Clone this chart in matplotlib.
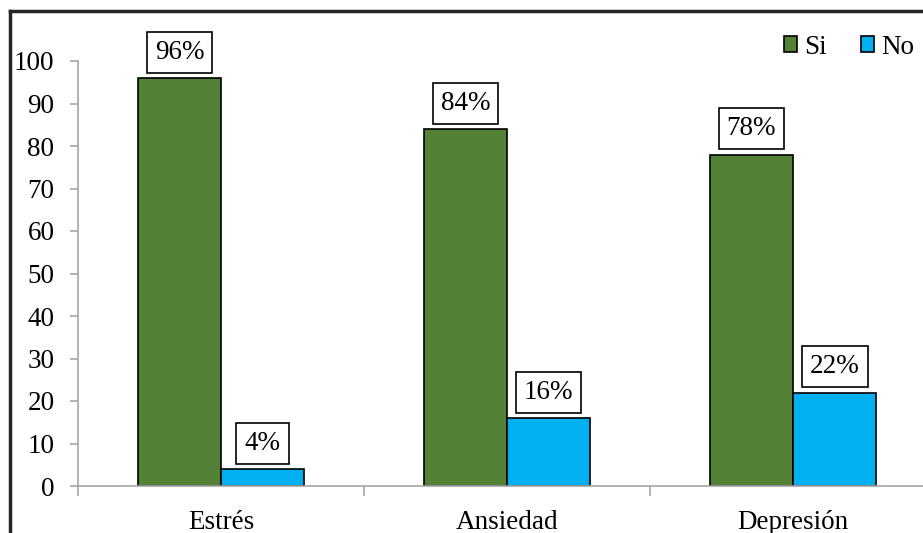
import matplotlib
matplotlib.use("Agg")
import matplotlib.pyplot as plt
from matplotlib.lines import Line2D
from matplotlib.patches import Patch
import numpy as np

categories = ["Estrés", "Ansiedad", "Depresión"]
si_values = [96, 84, 78]
no_values = [4, 16, 22]
series_names = ["Si", "No"]
yticks = list(range(0, 101, 10))

plt.rcParams["font.family"] = ["Liberation Serif", "DejaVu Serif"]
FS = 19.5

W, H = 923, 533
fig = plt.figure(figsize=(W / 100, H / 100), dpi=100)

# axes geometry in pixels: left at x=78, 286 px per category, y from 486 (0) to 61 (100)
left_px, unit_px = 78, 286
bottom_px, top_px = 486, 61
ax_w = 3 * unit_px
ax = fig.add_axes([left_px / W, (H - bottom_px) / H, ax_w / W, (bottom_px - top_px) / H])

x = np.arange(len(categories))
bw = 83 / unit_px
green = "#538135"
blue = "#00B0F0"
ax.bar(x - bw / 2, si_values, bw, color=green, edgecolor="black", linewidth=1.2)
ax.bar(x + bw / 2, no_values, bw, color=blue, edgecolor="black", linewidth=1.2)

label_box = dict(boxstyle="square,pad=0.3", fc="white", ec="black", lw=1.2)
for xs, vals in ((x - bw / 2, si_values), (x + bw / 2, no_values)):
    for xi, v in zip(xs, vals):
        ax.annotate(f"{v}%", (xi, v), xytext=(0, 9.5), textcoords="offset points",
                    ha="center", va="bottom", fontsize=FS, bbox=label_box)

ax.set_xlim(-0.5, 2.5)
ax.set_ylim(0, 100)
ax.set_yticks(yticks)
ax.set_yticklabels([str(t) for t in yticks], fontsize=FS)
ax.set_xticks(x)
ax.set_xticklabels(categories, fontsize=FS)
ax.tick_params(axis="x", length=0, pad=17)
ax.tick_params(axis="y", length=6, color="#A6A6A6", width=1.2, pad=11)
# category separators on the x axis
ax.set_xticks([-0.5, 0.5, 1.5], minor=True)
ax.tick_params(axis="x", which="minor", length=7, color="#A6A6A6", width=1.2, direction="out")

for s in ["top", "right"]:
    ax.spines[s].set_visible(False)
for s in ["left", "bottom"]:
    ax.spines[s].set_color("#A6A6A6")
    ax.spines[s].set_linewidth(1.2)

handles = [Patch(facecolor=green, edgecolor="black", lw=1.2),
           Patch(facecolor=blue, edgecolor="black", lw=1.2)]
fig.legend(handles, series_names, loc="center right", bbox_to_anchor=(914 / W, 1 - 47 / H),
           ncol=2, frameon=False, fontsize=FS, handlelength=0.5, handleheight=0.5,
           handletextpad=0.25, columnspacing=1.25, borderaxespad=0, borderpad=0)

# outer frame (left and top edges)
fig.add_artist(Line2D([10 / W, 10 / W], [0, 1 - 11 / H], color="#262626", lw=2.5,
                      transform=fig.transFigure))
fig.add_artist(Line2D([10 / W, 1], [1 - 11 / H, 1 - 11 / H], color="#262626", lw=2.5,
                      transform=fig.transFigure))

fig.savefig("out.png", dpi=100)
